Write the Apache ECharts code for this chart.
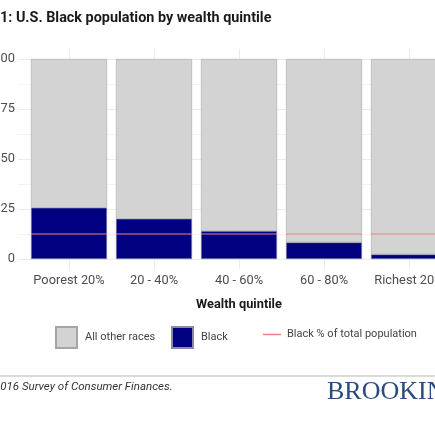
<!DOCTYPE html>
<html>
<head>
<meta charset="utf-8">
<script src="https://cdn.jsdelivr.net/npm/echarts@6/dist/echarts.min.js"></script>
<style>
  html, body { margin: 0; padding: 0; background: #fff; }
  #chart { width: 435px; height: 435px; }
</style>
</head>
<body>
<div id="chart"></div>
<script>
// values (percent of each wealth quintile)
const quintiles = ['Poorest 20%', '20 - 40%', '40 - 60%', '60 - 80%', 'Richest 20%']
const blackShare = [25.6, 20.1, 14.0, 8.3, 2.3]
const otherShare = [74.4, 79.9, 86.0, 91.7, 97.7]
const totalBlackShare = [12.8, 12.8, 12.8, 12.8, 12.8]
const yTicks = [0, 25, 50, 75, 100]

const font = 'Roboto'
const gridColor = '#ebebeb'
const labelColor = '#4d4d4d'

let myChart = echarts.init(document.getElementById('chart'))

const option = {
  animation: false,
  textStyle: { fontFamily: font },
  title: {
    text: '1: U.S. Black population by wealth quintile',
    left: 0,
    top: 11,
    padding: [0, 0, 0, 0],
    textStyle: { fontSize: 14.4, fontWeight: 'bold', color: '#1a1a1a', fontFamily: font }
  },
  grid: [
    // background panel: horizontal grid lines and y labels
    { left: 18, right: -40, top: 59, bottom: 176, outerBoundsMode: 'none' },
    // bars: panel with ggplot style expansion (-5 .. 105)
    { left: 26.5, right: -16.5, top: 49, bottom: 166, outerBoundsMode: 'none' }
  ],
  xAxis: [
    { gridIndex: 0, type: 'value', show: false },
    {
      gridIndex: 1,
      type: 'category',
      data: quintiles,
      boundaryGap: true,
      axisLine: { show: false, onZero: false },
      axisTick: {
        show: true, inside: true, alignWithLabel: true, length: 220,
        lineStyle: { color: gridColor, width: 1 }
      },
      axisLabel: { color: labelColor, fontSize: 12.8, margin: 5, interval: 0 },
      name: 'Wealth quintile',
      nameLocation: 'middle',
      nameGap: 29,
      nameTextStyle: { color: '#1a1a1a', fontSize: 12.8, fontWeight: 'bold' },
      splitLine: { show: false }
    }
  ],
  yAxis: [
    {
      gridIndex: 0,
      type: 'value',
      min: yTicks[0],
      max: yTicks[yTicks.length - 1],
      interval: 25,
      axisLine: { show: false },
      axisTick: { show: false },
      axisLabel: { color: labelColor, fontSize: 12.8, margin: 3 },
      splitLine: { lineStyle: { color: gridColor, width: 1 } },
      minorTick: { show: false, splitNumber: 2 },
      minorSplitLine: { show: true, lineStyle: { color: '#f3f3f3', width: 1 } }
    },
    { gridIndex: 1, type: 'value', min: -5, max: 105, show: false, splitLine: { show: false } }
  ],
  legend: [
    {
      data: ['All other races'], left: 55, top: 326, padding: 0, itemWidth: 21, itemHeight: 21,
      icon: 'rect', textStyle: { color: '#444', fontSize: 11, padding: [0, 0, 0, 3] }
    },
    {
      data: ['Black'], left: 171, top: 326, padding: 0, itemWidth: 21, itemHeight: 21,
      icon: 'rect', textStyle: { color: '#444', fontSize: 11, padding: [0, 0, 0, 3] }
    },
    {
      data: ['Black % of total population'], left: 263, top: 329, padding: 0, itemWidth: 18, itemHeight: 1.5,
      icon: 'rect', textStyle: { color: '#444', fontSize: 11, padding: [0, 0, 0, 1] }
    }
  ],
  graphic: [
    { type: 'line', shape: { x1: 0, y1: 376, x2: 435, y2: 376 }, style: { stroke: '#cfcfcf', lineWidth: 1.5 } },
    {
      type: 'text', left: -6, top: 381,
      style: { text: '2016 Survey of Consumer Finances.', font: 'italic 11.5px Roboto', fill: '#333' }
    },
    {
      type: 'text', left: 327, top: 379,
      style: { text: 'BROOKINGS', font: '26px "Liberation Serif"', fill: '#2b4a7d' }
    }
  ],
  series: [
    {
      name: 'Black',
      type: 'bar',
      xAxisIndex: 1, yAxisIndex: 1,
      stack: 'share',
      barWidth: 76,
      data: blackShare,
      itemStyle: { color: '#000080', borderColor: '#8a8aa6', borderWidth: 0.6 }
    },
    {
      name: 'All other races',
      type: 'bar',
      xAxisIndex: 1, yAxisIndex: 1,
      stack: 'share',
      barWidth: 76,
      data: otherShare,
      itemStyle: { color: '#d3d3d3', borderColor: '#a6a6a6', borderWidth: 0.6 }
    },
    {
      name: 'Black % of total population',
      type: 'pictorialBar',
      xAxisIndex: 1, yAxisIndex: 1,
      symbol: 'rect',
      symbolSize: [76, 1.2],
      symbolPosition: 'end',
      barWidth: 76,
      z: 5,
      data: totalBlackShare,
      itemStyle: { color: '#f08080' }
    }
  ]
}

myChart.setOption(option)
</script>
</body>
</html>
